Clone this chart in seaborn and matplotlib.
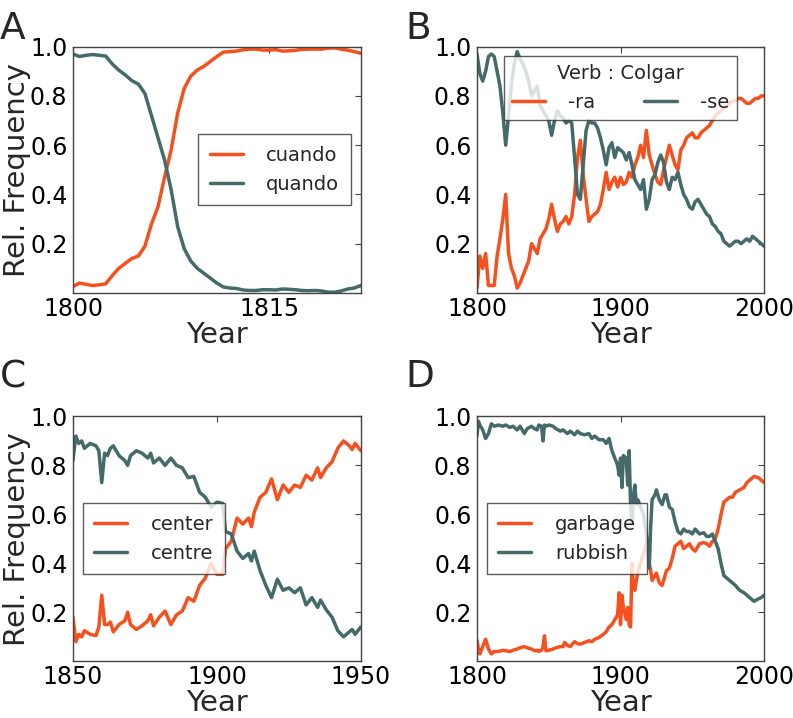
import numpy as np
import pandas as pd
import matplotlib
matplotlib.use('Agg')
import matplotlib.pyplot as plt
import seaborn as sns

sns.set_style("white")
plt.rcParams['font.family'] = ['DejaVu Sans']
plt.rcParams.update({'xtick.direction': 'in', 'ytick.direction': 'in',
                     'xtick.top': True, 'ytick.right': True,
                     'xtick.major.size': 4, 'ytick.major.size': 4,
                     'xtick.color': '#444444', 'ytick.color': '#444444',
                     'xtick.labelcolor': 'black', 'ytick.labelcolor': 'black',
                     'axes.edgecolor': '#444444', 'axes.linewidth': 1.0})

ORANGE = '#f5501d'
TEAL = '#456a6a'

# --- panel A: cuando / quando
years_a = [1800.0 + 0.5 * i for i in range(45)]
quando = [0.97, 0.96, 0.965, 0.968, 0.965, 0.962, 0.93, 0.905, 0.885, 0.862,
          0.848, 0.81, 0.72, 0.63, 0.54, 0.42, 0.27, 0.18, 0.13, 0.10,
          0.08, 0.06, 0.04, 0.024, 0.02, 0.018, 0.012, 0.01, 0.01, 0.013,
          0.013, 0.012, 0.016, 0.015, 0.013, 0.01, 0.009, 0.01, 0.008, 0.003,
          0.003, 0.008, 0.016, 0.02, 0.03]
cuando = [0.026, 0.04, 0.035, 0.03, 0.033, 0.037, 0.07, 0.10, 0.12, 0.14,
          0.15, 0.19, 0.28, 0.35, 0.47, 0.58, 0.73, 0.83, 0.88, 0.905,
          0.92, 0.94, 0.96, 0.978, 0.98, 0.982, 0.987, 0.99, 0.99, 0.986,
          0.986, 0.988, 0.982, 0.983, 0.985, 0.989, 0.99, 0.99, 0.99, 0.994,
          0.995, 0.99, 0.986, 0.98, 0.973]

# --- panel B: Colgar -ra / -se
years_b = list(range(1800, 2001, 2))
ra = [0.02, 0.15, 0.10, 0.16, 0.03, 0.03, 0.03, 0.15, 0.22, 0.30,
      0.40, 0.16, 0.10, 0.07, 0.02, 0.04, 0.07, 0.10, 0.13, 0.20,
      0.18, 0.16, 0.22, 0.24, 0.26, 0.30, 0.36, 0.30, 0.25, 0.28,
      0.29, 0.31, 0.28, 0.31, 0.40, 0.55, 0.62, 0.48, 0.38, 0.29,
      0.31, 0.32, 0.33, 0.36, 0.42, 0.49, 0.42, 0.45, 0.47, 0.43,
      0.47, 0.44, 0.45, 0.49, 0.47, 0.52, 0.55, 0.60, 0.55, 0.66,
      0.56, 0.52, 0.48, 0.45, 0.44, 0.50, 0.55, 0.60, 0.56, 0.52,
      0.50, 0.58, 0.60, 0.63, 0.64, 0.65, 0.63, 0.63, 0.65, 0.66,
      0.67, 0.68, 0.70, 0.72, 0.73, 0.74, 0.75, 0.76, 0.77, 0.78,
      0.78, 0.79, 0.79, 0.78, 0.77, 0.77, 0.78, 0.79, 0.79, 0.80,
      0.80]
se = [0.97, 0.89, 0.86, 0.90, 0.96, 0.97, 0.96, 0.90, 0.84, 0.73,
      0.60, 0.72, 0.85, 0.93, 0.98, 0.95, 0.93, 0.90, 0.86, 0.80,
      0.82, 0.84, 0.76, 0.74, 0.72, 0.70, 0.64, 0.70, 0.74, 0.72,
      0.71, 0.69, 0.70, 0.69, 0.55, 0.40, 0.38, 0.52, 0.66, 0.70,
      0.69, 0.69, 0.67, 0.63, 0.58, 0.52, 0.59, 0.61, 0.55, 0.59,
      0.58, 0.57, 0.54, 0.57, 0.52, 0.46, 0.44, 0.42, 0.46, 0.34,
      0.38, 0.46, 0.48, 0.53, 0.56, 0.53, 0.45, 0.42, 0.47, 0.46,
      0.49, 0.44, 0.40, 0.38, 0.35, 0.34, 0.37, 0.38, 0.36, 0.34,
      0.32, 0.31, 0.28, 0.27, 0.25, 0.24, 0.21, 0.20, 0.19, 0.20,
      0.21, 0.21, 0.20, 0.21, 0.22, 0.21, 0.23, 0.22, 0.21, 0.20,
      0.19]

# --- panel C: center / centre
years_c = [1850, 1851, 1852, 1853, 1854, 1856, 1858, 1859, 1860, 1861,
           1862, 1863, 1864, 1866, 1868, 1869, 1870, 1872, 1874, 1876,
           1877, 1878, 1880, 1882, 1884, 1886, 1888, 1890, 1892, 1894,
           1896, 1898, 1900, 1902, 1903, 1905, 1907, 1909, 1911, 1912,
           1913, 1915, 1917, 1919, 1921, 1923, 1925, 1927, 1929, 1931,
           1933, 1935, 1936, 1938, 1940, 1942, 1944, 1946, 1947, 1948,
           1950]
centre = [0.82, 0.92, 0.89, 0.90, 0.87, 0.89, 0.88, 0.86, 0.73, 0.85,
          0.84, 0.87, 0.88, 0.84, 0.82, 0.80, 0.84, 0.86, 0.85, 0.83,
          0.85, 0.81, 0.83, 0.80, 0.83, 0.80, 0.79, 0.75, 0.755, 0.69,
          0.67, 0.63, 0.65, 0.645, 0.53, 0.52, 0.45, 0.42, 0.44, 0.41,
          0.45, 0.37, 0.31, 0.26, 0.335, 0.29, 0.30, 0.28, 0.30, 0.23,
          0.26, 0.22, 0.25, 0.21, 0.18, 0.125, 0.10, 0.12, 0.13, 0.11,
          0.14]
center = [0.18, 0.08, 0.11, 0.10, 0.125, 0.11, 0.105, 0.14, 0.27, 0.15,
          0.15, 0.16, 0.12, 0.15, 0.165, 0.20, 0.15, 0.13, 0.145, 0.165,
          0.19, 0.145, 0.18, 0.205, 0.15, 0.19, 0.205, 0.26, 0.245, 0.31,
          0.34, 0.40, 0.355, 0.355, 0.46, 0.49, 0.585, 0.56, 0.585, 0.55,
          0.61, 0.67, 0.69, 0.745, 0.66, 0.72, 0.69, 0.72, 0.71, 0.76,
          0.74, 0.79, 0.75, 0.79, 0.815, 0.87, 0.90, 0.88, 0.865, 0.89,
          0.86]

# --- panel D: garbage / rubbish
years_d = [1800, 1801, 1802, 1804, 1806, 1808, 1810, 1812, 1815, 1818,
           1820, 1823, 1825, 1828, 1830, 1833, 1835, 1838, 1840, 1842,
           1843, 1845, 1846, 1847, 1848, 1850, 1853, 1855, 1858, 1860,
           1861, 1863, 1865, 1868, 1870, 1872, 1875, 1878, 1880, 1882,
           1885, 1888, 1890, 1892, 1894, 1896, 1898, 1899, 1900, 1901,
           1902, 1904, 1905, 1906, 1907, 1908, 1909, 1910, 1911, 1912,
           1914, 1916, 1918, 1919, 1920, 1921, 1922, 1924, 1925, 1927,
           1929, 1931, 1932, 1934, 1936, 1938, 1940, 1942, 1944, 1946,
           1948, 1950, 1952, 1955, 1958, 1960, 1962, 1964, 1966, 1968,
           1970, 1972, 1974, 1976, 1978, 1980, 1983, 1986, 1988, 1990,
           1993, 1996, 1998, 2000]
rubbish = [0.92, 0.98, 0.965, 0.945, 0.91, 0.93, 0.97, 0.96, 0.965, 0.96,
           0.965, 0.955, 0.96, 0.945, 0.96, 0.93, 0.95, 0.96, 0.95, 0.945,
           0.965, 0.96, 0.90, 0.965, 0.96, 0.965, 0.96, 0.95, 0.94, 0.945,
           0.94, 0.93, 0.94, 0.925, 0.94, 0.93, 0.925, 0.93, 0.91, 0.92,
           0.905, 0.905, 0.89, 0.91, 0.86, 0.83, 0.80, 0.76, 0.83, 0.71,
           0.84, 0.83, 0.72, 0.86, 0.64, 0.56, 0.68, 0.72, 0.64, 0.66,
           0.63, 0.60, 0.52, 0.45, 0.38, 0.55, 0.66, 0.68, 0.70, 0.66,
           0.64, 0.68, 0.68, 0.63, 0.62, 0.57, 0.53, 0.52, 0.54, 0.53,
           0.53, 0.52, 0.54, 0.52, 0.525, 0.51, 0.51, 0.52, 0.49, 0.46,
           0.40, 0.35, 0.34, 0.33, 0.32, 0.31, 0.29, 0.28, 0.27, 0.26,
           0.245, 0.255, 0.26, 0.27]
garbage = [0.086, 0.05, 0.03, 0.06, 0.09, 0.05, 0.03, 0.04, 0.04, 0.045,
           0.043, 0.04, 0.045, 0.05, 0.055, 0.06, 0.055, 0.05, 0.043, 0.045,
           0.04, 0.045, 0.06, 0.104, 0.043, 0.045, 0.05, 0.055, 0.06, 0.06,
           0.077, 0.065, 0.06, 0.08, 0.072, 0.07, 0.077, 0.084, 0.08, 0.09,
           0.097, 0.11, 0.12, 0.14, 0.15, 0.17, 0.19, 0.28, 0.15, 0.27,
           0.22, 0.17, 0.22, 0.15, 0.14, 0.40, 0.30, 0.29, 0.33, 0.36,
           0.40, 0.44, 0.48, 0.44, 0.40, 0.37, 0.33, 0.35, 0.36, 0.32,
           0.31, 0.35, 0.37, 0.38, 0.42, 0.47, 0.48, 0.49, 0.46, 0.47,
           0.48, 0.46, 0.45, 0.48, 0.485, 0.48, 0.47, 0.49, 0.50, 0.54,
           0.60, 0.65, 0.66, 0.67, 0.67, 0.69, 0.70, 0.71, 0.73, 0.74,
           0.755, 0.75, 0.74, 0.73]

PANELS = [
    ('A', years_a, {'cuando': cuando, 'quando': quando}, (1800, 1822), [1800, 1815], True),
    ('B', years_b, {'-ra': ra, '-se': se}, (1800, 2000), [1800, 1900, 2000], False),
    ('C', years_c, {'center': center, 'centre': centre}, (1850, 1950), [1850, 1900, 1950], True),
    ('D', years_d, {'garbage': garbage, 'rubbish': rubbish}, (1800, 2000), [1800, 1900, 2000], False),
]

fig = plt.figure(figsize=(7.93, 7.18), dpi=100)
rects = [(0.092, 0.592, 0.363, 0.343), (0.6015, 0.592, 0.362, 0.343),
         (0.092, 0.079, 0.363, 0.341), (0.6015, 0.079, 0.362, 0.341)]
letter_pos = [(0.0, 0.985), (0.511, 0.985), (0.0, 0.5), (0.511, 0.5)]

for (letter, yrs, series, xlim, xticks, ylab), rect, lp in zip(PANELS, rects, letter_pos):
    ax = fig.add_axes(rect)
    names = list(series.keys())
    df = pd.DataFrame({'Year': list(yrs) * 2,
                       'freq': series[names[0]] + series[names[1]],
                       'word': [names[0]] * len(yrs) + [names[1]] * len(yrs)})
    sns.lineplot(data=df, x='Year', y='freq', hue='word', hue_order=names,
                 palette=[ORANGE, TEAL], linewidth=2.5, ax=ax, legend=True)
    ax.set_xlim(*xlim)
    ax.set_ylim(0, 1)
    ax.set_xticks(xticks)
    ax.set_yticks([0.2, 0.4, 0.6, 0.8, 1.0])
    ax.set_yticklabels(['0.2', '0.4', '0.6', '0.8', '1.0'])
    ax.tick_params(labelsize=17, pad=4)
    ax.tick_params(axis='x', pad=3)
    ax.set_xlabel('Year', fontsize=21, labelpad=0)
    if ylab:
        ax.set_ylabel('Rel. Frequency', fontsize=21)
        ax.yaxis.set_label_coords(-0.145, 0.5)
    else:
        ax.set_ylabel('')
    handles, labels = ax.get_legend_handles_labels()
    if letter == 'B':
        leg = ax.legend(handles, labels, loc='upper center', ncol=2, title='Verb : Colgar',
                        fontsize=14, title_fontsize=14, handlelength=1.7,
                        handletextpad=1.2, columnspacing=2.5, borderaxespad=0.5)
    else:
        loc = 'center right' if letter == 'A' else 'center left'
        leg = ax.legend(handles, labels, loc=loc, fontsize=14, handlelength=1.7,
                        handletextpad=1.2, borderaxespad=0.5, borderpad=0.6)
    leg.get_frame().set_edgecolor('#333333')
    leg.get_frame().set_linewidth(1.0)
    leg.get_frame().set_boxstyle('square', pad=0)
    for line in leg.get_lines():
        line.set_linewidth(2.5)
    fig.text(lp[0], lp[1], letter, fontsize=27, ha='left', va='top')

plt.savefig('out.png', dpi=100)
